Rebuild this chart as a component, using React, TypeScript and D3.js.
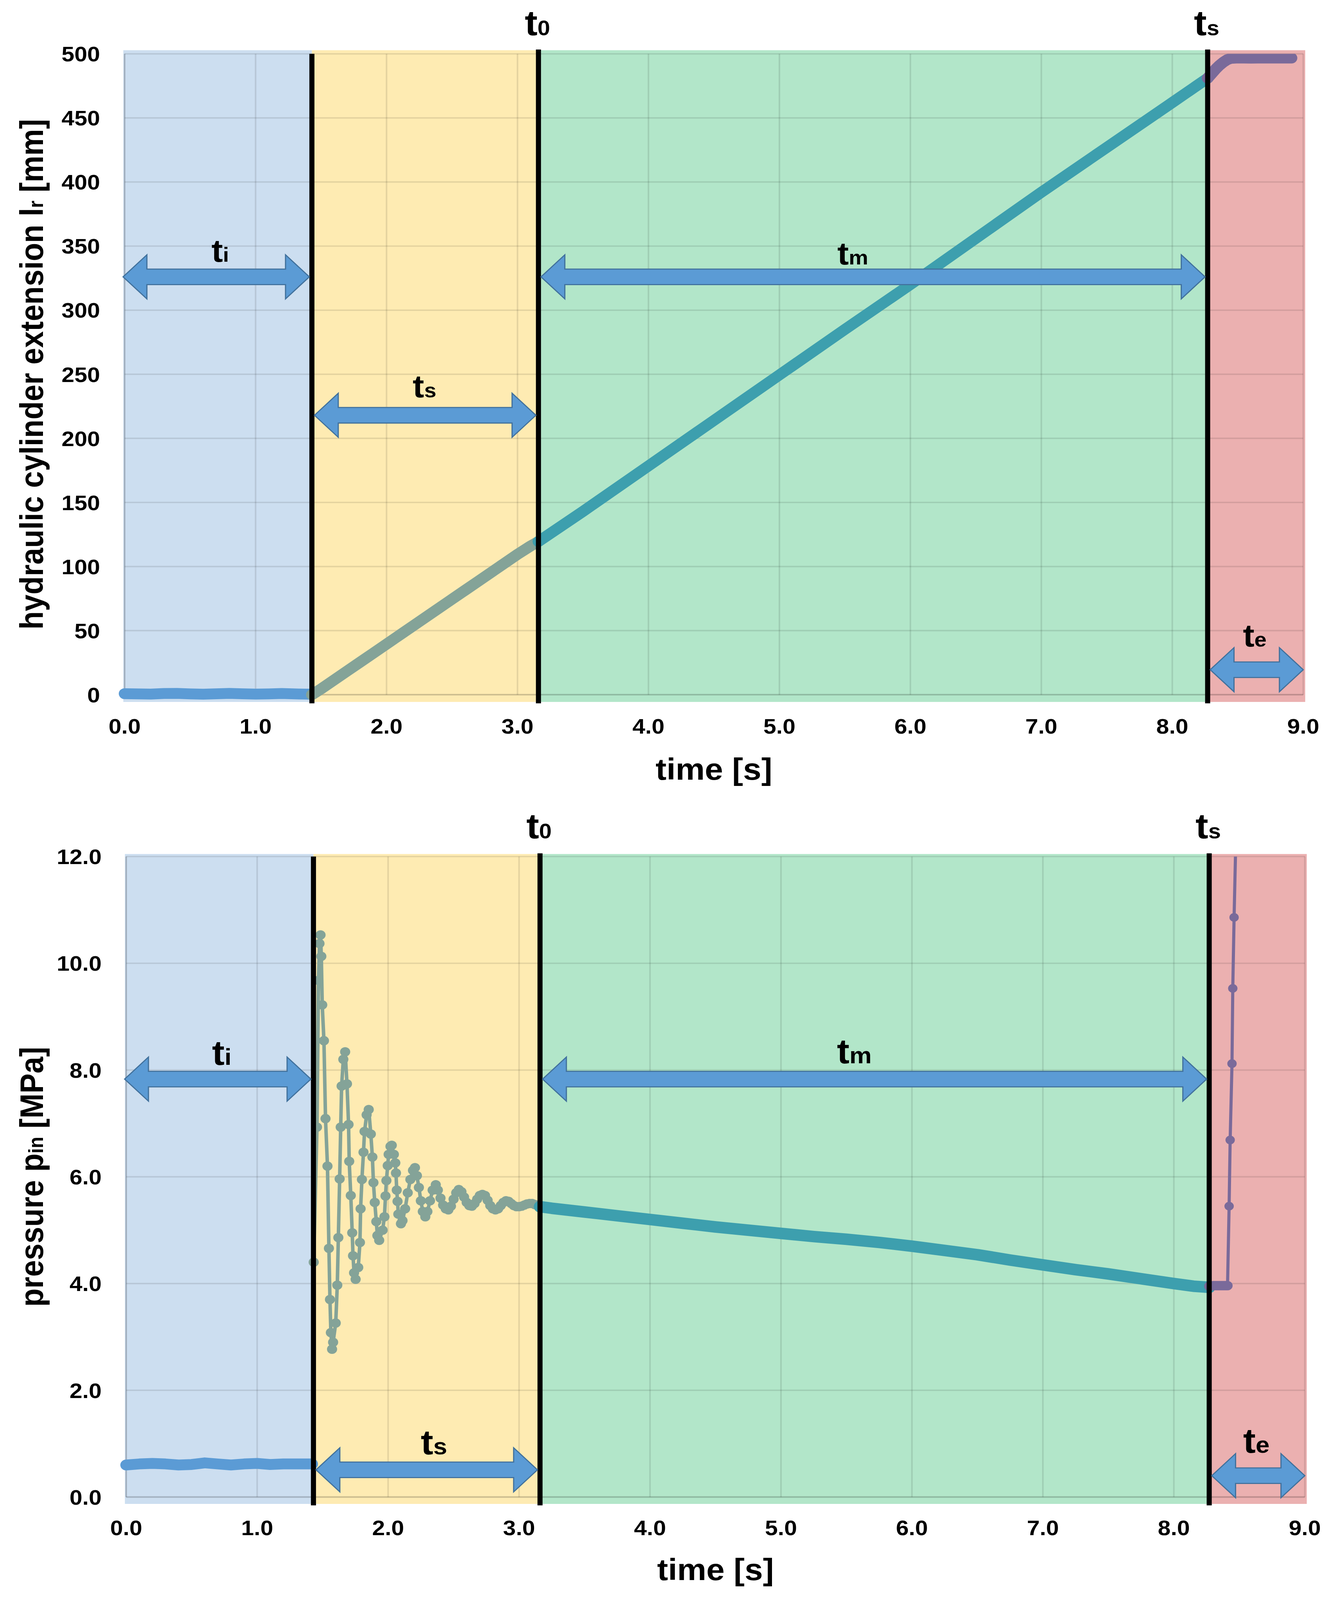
import { useEffect } from "react";
import * as d3 from "d3";

const W = 3435;
const H = 4429;
const FONT = "'Liberation Sans', Arial, sans-serif";

// ---- axes ----
const timeTicks = [0, 1, 2, 3, 4, 5, 6, 7, 8, 9];
const extTicks = [0, 50, 100, 150, 200, 250, 300, 350, 400, 450, 500];
const presTicks = [0, 2, 4, 6, 8, 10, 12];

// phase boundaries [s]: end of idle, t0, ts
const phaseEdges = [1.43, 3.16, 8.27];
const phaseColors = ["#CCDEF0", "#FEEBB2", "#B2E6C9", "#EBB0B0"];

// ---- hydraulic cylinder extension l_r [mm] ----
const extIdle: [number, number][] = [
  [0.0, 0.8], [0.1, 0.6], [0.2, 0.5], [0.3, 0.9], [0.4, 1.0], [0.5, 0.6], [0.6, 0.4],
  [0.7, 0.7], [0.8, 1.0], [0.9, 0.7], [1.0, 0.5], [1.1, 0.6], [1.2, 0.9], [1.3, 0.6], [1.43, 0.4],
];
const extStart: [number, number][] = [
  [1.43, 0.0], [1.5, 4.5], [1.6, 11.5], [1.7, 18.5], [1.8, 25.5], [1.9, 32.5], [2.0, 39.5],
  [2.1, 46.5], [2.2, 53.5], [2.3, 60.5], [2.4, 67.5], [2.5, 74.5], [2.6, 81.5], [2.7, 88.5],
  [2.8, 95.5], [2.9, 102.5], [3.0, 109.5], [3.1, 116.0], [3.16, 119.5],
];
const extMain: [number, number][] = [
  [3.16, 119.5], [3.5, 143], [4.0, 178.5], [4.5, 214], [5.0, 249.5], [5.5, 285], [6.0, 320],
  [6.5, 356], [7.0, 392], [7.5, 427], [8.0, 462], [8.27, 481],
];
const extEnd: [number, number][] = [
  [8.27, 481], [8.3, 484.5], [8.33, 488], [8.36, 491], [8.39, 493.5], [8.42, 495.5], [8.45, 496.5],
  [8.5, 496.8], [8.6, 496.6], [8.7, 496.8], [8.8, 496.7], [8.91, 496.7],
];

// ---- pressure p_in [MPa] ----
const presIdle: [number, number][] = [
  [0.0, 0.6], [0.1, 0.62], [0.2, 0.63], [0.3, 0.62], [0.4, 0.6], [0.5, 0.61], [0.6, 0.64],
  [0.7, 0.62], [0.8, 0.6], [0.9, 0.62], [1.0, 0.63], [1.1, 0.61], [1.2, 0.62], [1.3, 0.62], [1.42, 0.62],
];
const presStart: [number, number][] = [
  [1.432, 4.4], [1.457, 6.93], [1.468, 9.68], [1.476, 10.37], [1.484, 10.53], [1.49, 10.13],
  [1.497, 9.22], [1.51, 8.55], [1.522, 7.09], [1.537, 6.2], [1.548, 4.66], [1.556, 3.7],
  [1.563, 3.08], [1.572, 2.77], [1.58, 2.9], [1.6, 3.26], [1.612, 3.97], [1.62, 4.86],
  [1.63, 5.96], [1.638, 6.93], [1.645, 7.7], [1.658, 8.2], [1.672, 8.34], [1.686, 7.74],
  [1.698, 6.98], [1.703, 6.29], [1.715, 5.65], [1.726, 4.95], [1.732, 4.52], [1.74, 4.2],
  [1.752, 4.08], [1.772, 4.3], [1.785, 4.77], [1.79, 5.4], [1.8, 5.95], [1.812, 6.46],
  [1.82, 6.85], [1.836, 7.16], [1.852, 7.26], [1.868, 6.8], [1.88, 6.37], [1.888, 5.89],
  [1.898, 5.52], [1.91, 5.16], [1.918, 4.9], [1.932, 4.81], [1.958, 5.0], [1.972, 5.25],
  [1.98, 5.64], [1.987, 5.93], [1.997, 6.21], [2.004, 6.42], [2.018, 6.57], [2.028, 6.59],
  [2.044, 6.42], [2.055, 6.26], [2.06, 6.07], [2.066, 5.75], [2.072, 5.54], [2.078, 5.3],
  [2.098, 5.12], [2.11, 5.18], [2.13, 5.4], [2.15, 5.7], [2.17, 5.95], [2.19, 6.12],
  [2.205, 6.17], [2.22, 6.02], [2.235, 5.8], [2.25, 5.55], [2.265, 5.35], [2.284, 5.25],
  [2.3, 5.35], [2.32, 5.55], [2.34, 5.75], [2.364, 5.85], [2.38, 5.75], [2.4, 5.6],
  [2.42, 5.47], [2.44, 5.4], [2.46, 5.38], [2.48, 5.45], [2.5, 5.58], [2.52, 5.7],
  [2.54, 5.76], [2.56, 5.72], [2.58, 5.62], [2.6, 5.52], [2.62, 5.46], [2.64, 5.45],
  [2.66, 5.5], [2.68, 5.58], [2.7, 5.65], [2.72, 5.67], [2.74, 5.65], [2.76, 5.56],
  [2.78, 5.46], [2.8, 5.4], [2.82, 5.38], [2.84, 5.4], [2.86, 5.46], [2.88, 5.52],
  [2.9, 5.55], [2.92, 5.54], [2.94, 5.5], [2.96, 5.46], [2.98, 5.44], [3.0, 5.44],
  [3.02, 5.45], [3.04, 5.47], [3.06, 5.49], [3.08, 5.5], [3.1, 5.5], [3.12, 5.48],
  [3.14, 5.46], [3.16, 5.45],
];
const presMain: [number, number][] = [
  [3.16, 5.44], [3.25, 5.41], [3.5, 5.34], [3.75, 5.27], [4.0, 5.2], [4.25, 5.13], [4.5, 5.06],
  [4.75, 5.0], [5.0, 4.94], [5.25, 4.88], [5.5, 4.83], [5.75, 4.77], [6.0, 4.7], [6.25, 4.62],
  [6.5, 4.54], [6.75, 4.44], [7.0, 4.35], [7.25, 4.26], [7.5, 4.18], [7.75, 4.09], [8.0, 4.0],
  [8.15, 3.95], [8.27, 3.93],
];
const presEndFlat: [number, number][] = [
  [8.27, 3.95], [8.3, 3.96], [8.33, 3.96], [8.36, 3.96], [8.39, 3.96], [8.41, 3.96],
];
const presEndRise: [number, number][] = [
  [8.41, 3.96], [8.422, 5.45], [8.43, 6.69], [8.444, 8.12], [8.45, 9.53], [8.46, 10.86], [8.474, 12.4],
];

// ---- styles ----
const C_IDLE = "#5B9BD5";
const C_START = "#84A398";
const C_MAIN = "#3D9FAE";
const C_END = "#7A6A9A";
const ARROW_FILL = "#5B9BD5";
const ARROW_STROKE = "#41719C";

type Series = { pts: [number, number][]; color: string; width: number; r?: number };
type Arrow = { from: number; to: number; level: number; sub: string; labelT: number; dy: number };

type PanelProps = {
  id: string;
  x0: number;
  yBottom: number;
  yTop: number;
  yMax: number;
  yTicks: number[];
  fmt: (v: number) => string;
  shade: [number, number];
  series: Series[];
  arrows: Arrow[];
  labelSize: [number, number];
  title: React.ReactNode;
  tickBaseline: number;
  xTitleBaseline: number;
  topLabelBaseline: number;
};

function arrowPath(xa: number, xb: number, cy: number) {
  const hl = 61, hh = 61, sh = 21.5;
  return `M${xa},${cy} L${xa + hl},${cy - hh} L${xa + hl},${cy - sh} L${xb - hl},${cy - sh} L${xb - hl},${cy - hh} L${xb},${cy} L${xb - hl},${cy + hh} L${xb - hl},${cy + sh} L${xa + hl},${cy + sh} L${xa + hl},${cy + hh} Z`;
}

function Panel(p: PanelProps) {
  const x = d3.scaleLinear().domain([0, 9]).range([p.x0, p.x0 + 9 * 335.2]);
  const y = d3.scaleLinear().domain([0, p.yMax]).range([p.yBottom, p.yTop]);
  const line = d3.line<[number, number]>().x((d) => x(d[0])).y((d) => y(d[1]));
  const edges = [-0.01, ...phaseEdges, 9.015];
  const [sTop, sBot] = p.shade;
  const lineHalf = 6.5;

  return (
    <g>
      <defs>
        <clipPath id={`clip-${p.id}`}>
          <rect x={x(0) - 40} y={y(p.yMax)} width={x(9) - x(0) + 60} height={sBot - y(p.yMax) + 30} />
        </clipPath>
      </defs>
      {/* phase shading */}
      {phaseColors.map((c, i) => (
        <rect key={i} x={x(edges[i])} y={sTop} width={x(edges[i + 1]) - x(edges[i])} height={sBot - sTop} fill={c} />
      ))}
      {/* grid */}
      {p.yTicks.map((v) => (
        <line key={`h${v}`} x1={x(0)} x2={x(9)} y1={y(v)} y2={y(v)} stroke="#000" strokeOpacity={v === 0 ? 0.2 : 0.1} strokeWidth={4} />
      ))}
      {timeTicks.map((t) => (
        <line key={`v${t}`} x1={x(t)} x2={x(t)} y1={y(p.yMax)} y2={y(0)} stroke="#000" strokeOpacity={t === 0 ? 0.2 : 0.1} strokeWidth={4} />
      ))}
      {/* data */}
      <g clipPath={`url(#clip-${p.id})`}>
        {p.series.map((s, i) => (
          <g key={i}>
            <path d={line(s.pts) ?? ""} fill="none" stroke={s.color} strokeWidth={s.width} strokeLinecap="round" strokeLinejoin="round" />
            {s.r ? s.pts.map((d, j) => <circle key={j} cx={x(d[0])} cy={y(d[1])} r={s.r} fill={s.color} />) : null}
          </g>
        ))}
      </g>
      {/* phase boundary lines */}
      {phaseEdges.map((t, i) => (
        <line key={`b${t}`} x1={x(t)} x2={x(t)} y1={i === 0 ? y(p.yMax) : sTop - 2} y2={sBot + 4} stroke="#000" strokeWidth={13} />
      ))}
      {/* arrows */}
      {p.arrows.map((a, i) => {
        const xa = a.from <= 0 ? x(0) - 4 : x(a.from) + lineHalf;
        const xb = a.to >= 9 ? x(9) : x(a.to) - lineHalf;
        const cy = y(a.level);
        return (
          <g key={`a${i}`}>
            <path d={arrowPath(xa, xb, cy)} fill={ARROW_FILL} stroke={ARROW_STROKE} strokeWidth={3} />
            <text x={x(a.labelT)} y={cy + a.dy} textAnchor="middle" fontFamily={FONT} fontWeight="bold" fontSize={p.labelSize[0]}>
              t<tspan fontSize={p.labelSize[1]}>{a.sub}</tspan>
            </text>
          </g>
        );
      })}
      {/* t0 / ts labels above the plot */}
      {[
        { t: phaseEdges[1], sub: "0" },
        { t: phaseEdges[2], sub: "s" },
      ].map((l) => (
        <text key={l.sub} x={x(l.t) - 35} y={p.topLabelBaseline} fontFamily={FONT} fontWeight="bold" fontSize={98}>
          t<tspan fontSize={58}>{l.sub}</tspan>
        </text>
      ))}
      {/* y tick labels */}
      {p.yTicks.map((v) => (
        <text key={`yt${v}`} x={x(0) - 63} y={y(v) + 21} textAnchor="end" fontFamily={FONT} fontWeight="bold" fontSize={59}>
          {p.fmt(v)}
        </text>
      ))}
      {/* x tick labels */}
      {timeTicks.map((t) => (
        <text key={`xt${t}`} x={x(t)} y={p.tickBaseline} textAnchor="middle" fontFamily={FONT} fontWeight="bold" fontSize={59}>
          {d3.format(".1f")(t)}
        </text>
      ))}
      <text x={(x(0) + x(9)) / 2} y={p.xTitleBaseline} textAnchor="middle" fontFamily={FONT} fontWeight="bold" fontSize={84}>
        time [s]
      </text>
      <text transform={`translate(110, ${(y(0) + y(p.yMax)) / 2}) rotate(-90)`} textAnchor="middle" fontFamily={FONT} fontWeight="bold" fontSize={83}>
        {p.title}
      </text>
    </g>
  );
}

export default function App() {
  useEffect(() => {
    document.body.style.margin = "0";
  }, []);

  const extSeries: Series[] = [
    { pts: extIdle, color: C_IDLE, width: 30 },
    { pts: extStart, color: C_START, width: 30 },
    { pts: extMain, color: C_MAIN, width: 30 },
    { pts: extEnd, color: C_END, width: 30 },
  ];
  const presSeries: Series[] = [
    { pts: presIdle, color: C_IDLE, width: 30 },
    { pts: presStart, color: C_START, width: 9, r: 13 },
    { pts: presMain, color: C_MAIN, width: 32 },
    { pts: presEndFlat, color: C_END, width: 26 },
    { pts: presEndRise, color: C_END, width: 8, r: 12 },
  ];
  const extArrows: Arrow[] = [
    { from: 0, to: phaseEdges[0], level: 326, sub: "i", labelT: 0.73, dy: -42 },
    { from: phaseEdges[0], to: phaseEdges[1], level: 218, sub: "s", labelT: 2.29, dy: -50 },
    { from: phaseEdges[1], to: phaseEdges[2], level: 326, sub: "m", labelT: 5.56, dy: -34 },
    { from: phaseEdges[2], to: 9, level: 19.5, sub: "e", labelT: 8.63, dy: -64 },
  ];
  const presArrows: Arrow[] = [
    { from: 0, to: phaseEdges[0], level: 7.83, sub: "i", labelT: 0.73, dy: -40 },
    { from: phaseEdges[0], to: phaseEdges[1], level: 0.51, sub: "s", labelT: 2.35, dy: -43 },
    { from: phaseEdges[1], to: phaseEdges[2], level: 7.83, sub: "m", labelT: 5.56, dy: -44 },
    { from: phaseEdges[2], to: 9, level: 0.4, sub: "e", labelT: 8.63, dy: -64 },
  ];

  // the drawing is laid out on a 3435 x 4429 grid and scaled to whatever viewport the page gets
  return (
    <div style={{ position: "fixed", left: 0, top: 0, width: "100vw", height: "100vh", background: "#fff" }}>
      <svg
        viewBox={`0 0 ${W} ${H}`}
        preserveAspectRatio="none"
        style={{ display: "block", width: "100%", height: "100%" }}
      >
        <rect width={W} height={H} fill="#fff" />
        <Panel
          id="ext"
          x0={319}
          yBottom={1923}
          yTop={149}
          yMax={500}
          yTicks={extTicks}
          fmt={(v) => String(v)}
          shade={[139, 1943]}
          series={extSeries}
          arrows={extArrows}
          labelSize={[88, 56]}
          title={
            <>
              hydraulic cylinder extension l<tspan fontSize={52}>r</tspan> [mm]
            </>
          }
          tickBaseline={2031}
          xTitleBaseline={2158}
          topLabelBaseline={97}
        />
        <Panel
          id="pres"
          x0={323}
          yBottom={4144}
          yTop={2371}
          yMax={12}
          yTicks={presTicks}
          fmt={d3.format(".1f")}
          shade={[2364, 4163]}
          series={presSeries}
          arrows={presArrows}
          labelSize={[96, 64]}
          title={
            <>
              pressure p<tspan fontSize={52}>in</tspan> [MPa]
            </>
          }
          tickBaseline={4250}
          xTitleBaseline={4374}
          topLabelBaseline={2320}
        />
      </svg>
    </div>
  );
}
